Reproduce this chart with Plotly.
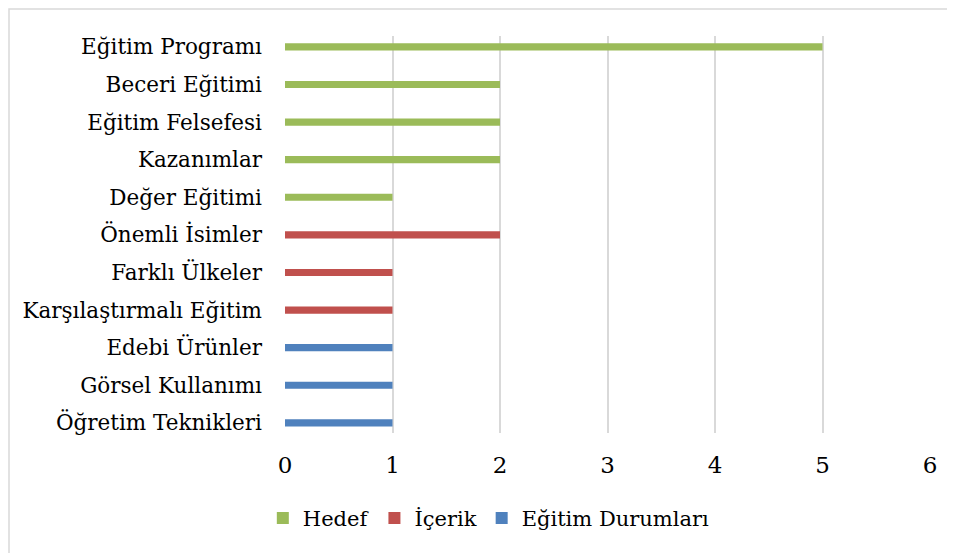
import plotly.graph_objects as go

# Categories top to bottom
categories = ["Eğitim Programı", "Beceri Eğitimi", "Eğitim Felsefesi", "Kazanımlar",
              "Değer Eğitimi", "Önemli İsimler", "Farklı Ülkeler", "Karşılaştırmalı Eğitim",
              "Edebi Ürünler", "Görsel Kullanımı", "Öğretim Teknikleri"]

hedef_cats = ["Eğitim Programı", "Beceri Eğitimi", "Eğitim Felsefesi", "Kazanımlar", "Değer Eğitimi"]
hedef_vals = [5, 2, 2, 2, 1]

icerik_cats = ["Önemli İsimler", "Farklı Ülkeler", "Karşılaştırmalı Eğitim"]
icerik_vals = [2, 1, 1]

durum_cats = ["Edebi Ürünler", "Görsel Kullanımı", "Öğretim Teknikleri"]
durum_vals = [1, 1, 1]

x_ticks = [0, 1, 2, 3, 4, 5, 6]

FONT = "DejaVu Serif"
OFF = 8  # page body offset

fig = go.Figure()
fig.add_trace(go.Bar(name="Hedef", y=hedef_cats, x=hedef_vals, orientation="h",
                     marker=dict(color="#9BBB59", line=dict(width=0)), width=0.19))
fig.add_trace(go.Bar(name="İçerik", y=icerik_cats, x=icerik_vals, orientation="h",
                     marker=dict(color="#C0504D", line=dict(width=0)), width=0.19))
fig.add_trace(go.Bar(name="Eğitim Durumları", y=durum_cats, x=durum_vals, orientation="h",
                     marker=dict(color="#4F81BD", line=dict(width=0)), width=0.19))

fig.update_layout(
    width=955, height=553,
    margin=dict(l=285 - OFF, r=25 + OFF, t=36 - OFF, b=120 + OFF),
    paper_bgcolor="white", plot_bgcolor="white",
    barmode="overlay",
    font=dict(family=FONT, size=21.5, color="black"),
    showlegend=True,
    legend=dict(orientation="h", x=0.316, xanchor="center", y=-0.215, yanchor="middle",
                font=dict(family=FONT, size=21, color="black"), traceorder="normal",
                itemwidth=30),
    xaxis=dict(range=[0, 6], tickvals=x_ticks, showgrid=True, gridcolor="#D9D9D9", gridwidth=1.5,
               zeroline=False, showline=False, ticks="", ticklabelstandoff=16, automargin=False,
               tickfont=dict(family=FONT, size=23)),
    yaxis=dict(categoryorder="array", categoryarray=categories[::-1], range=[-0.27, 10.29],
               showgrid=False, zeroline=False, showline=False, ticks="", ticklabelstandoff=22,
               automargin=False, tickfont=dict(family=FONT, size=21.5)),
    shapes=[dict(type="rect", xref="paper", yref="paper",
                 x0=(9 - 285) / 645, x1=(965 - 285) / 645,
                 y0=(433 - 563) / 397, y1=1 + (36 - 9) / 397,
                 line=dict(color="#D9D9D9", width=1.5), fillcolor="rgba(0,0,0,0)", layer="below")],
)

fig.write_html("out.html")
